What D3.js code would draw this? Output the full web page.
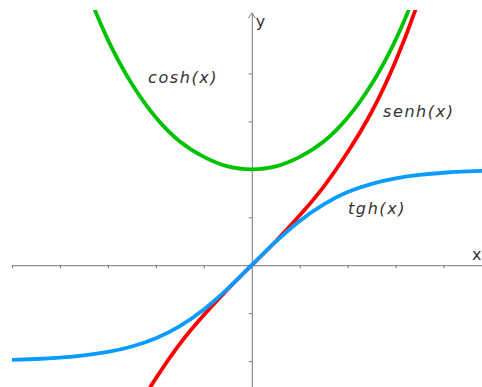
<!DOCTYPE html>
<html>
<head>
<meta charset="UTF-8">
<title>funciones hiperbólicas</title>
<style>
    body { margin: 0; background: #fff; }
    #chart .lbl {
        font-family: "DejaVu Sans", sans-serif;
        font-style: italic;
        font-size: 16px;
        letter-spacing: 1.6px;
        fill: #333;
    }
    #chart .axlbl {
        font-family: "DejaVu Sans", sans-serif;
        font-size: 16px;
        fill: #333;
    }
    #chart .axis path, #chart .axis line { stroke: #777; }
</style>
</head>
<body>
<div id="chart"></div>
<script src="https://cdn.jsdelivr.net/npm/d3@7"></script>
<script>
// valores
var xs   = [-2.5, -2.25, -2, -1.75, -1.5, -1.25, -1, -0.75, -0.5, -0.25, 0, 0.25, 0.5, 0.75, 1, 1.25, 1.5, 1.75, 2, 2.25, 2.5];
var cosh = [6.13, 4.80, 3.76, 2.96, 2.35, 1.89, 1.54, 1.29, 1.13, 1.03, 1.00, 1.03, 1.13, 1.29, 1.54, 1.89, 2.35, 2.96, 3.76, 4.80, 6.13];
var senh = [-6.05, -4.69, -3.63, -2.79, -2.13, -1.60, -1.18, -0.82, -0.52, -0.25, 0, 0.25, 0.52, 0.82, 1.18, 1.60, 2.13, 2.79, 3.63, 4.69, 6.05];
var tgh  = [-0.987, -0.978, -0.964, -0.941, -0.905, -0.848, -0.762, -0.635, -0.462, -0.245, 0, 0.245, 0.462, 0.635, 0.762, 0.848, 0.905, 0.941, 0.964, 0.978, 0.987];
var xTicks = [-2.5, -2, -1.5, -1, -0.5, 0.5, 1, 1.5, 2];
var yTicks = [-1, -0.5, 0.5, 1, 1.5, 2];
var curveNames = ["cosh(x)", "senh(x)", "tgh(x)"];

var W = 482, H = 387;
var svg = d3.select("#chart").append("svg").attr("width", W).attr("height", H);

var x = d3.scaleLinear().domain([-2.5, 2.4]).range([12, 482]);
var y = d3.scaleLinear().domain([-1.27, 2.64]).range([387, 12]);

svg.append("defs").append("clipPath").attr("id", "clip")
    .append("rect").attr("x", 12).attr("y", 10).attr("width", 470).attr("height", 377);

// ejes
svg.append("g").attr("class", "axis")
    .attr("transform", "translate(0," + y(0) + ")")
    .call(d3.axisBottom(x).tickValues(xTicks).tickSize(3).tickSizeOuter(0).tickFormat(""));
svg.append("g").attr("class", "axis")
    .attr("transform", "translate(" + x(0) + ",0)")
    .call(d3.axisLeft(y).tickValues(yTicks).tickSize(3).tickSizeOuter(0).tickFormat(""));

// flecha eje y
svg.append("path")
    .attr("d", "M" + (x(0) - 3.5) + "," + 18 + " L" + x(0) + "," + 13 + " L" + (x(0) + 3.5) + "," + 18)
    .attr("fill", "none").attr("stroke", "#777");

svg.append("text").attr("class", "axlbl").attr("x", x(0) + 4).attr("y", 27).text("y");
svg.append("text").attr("class", "axlbl").attr("x", 472).attr("y", 260).text("x");

var series = [
    {name: curveNames[0], vals: cosh, color: "#00c300"},
    {name: curveNames[1], vals: senh, color: "#ff0000"},
    {name: curveNames[2], vals: tgh, color: "#0a9bff"}
];

var line = d3.line()
    .x(function (d) { return x(d[0]); })
    .y(function (d) { return y(d[1]); })
    .curve(d3.curveNatural);

var g = svg.append("g").attr("clip-path", "url(#clip)");
series.forEach(function (s) {
    g.append("path")
        .datum(xs.map(function (v, i) { return [v, s.vals[i]]; }))
        .attr("fill", "none")
        .attr("stroke", s.color)
        .attr("stroke-width", 3.8)
        .attr("d", line);
});

// etiquetas
svg.append("text").attr("class", "lbl").attr("x", 148).attr("y", 83).text(curveNames[0]);
svg.append("text").attr("class", "lbl").attr("x", 383).attr("y", 117).text(curveNames[1]);
svg.append("text").attr("class", "lbl").attr("x", 348).attr("y", 214).text(curveNames[2]);
</script>
</body>
</html>
